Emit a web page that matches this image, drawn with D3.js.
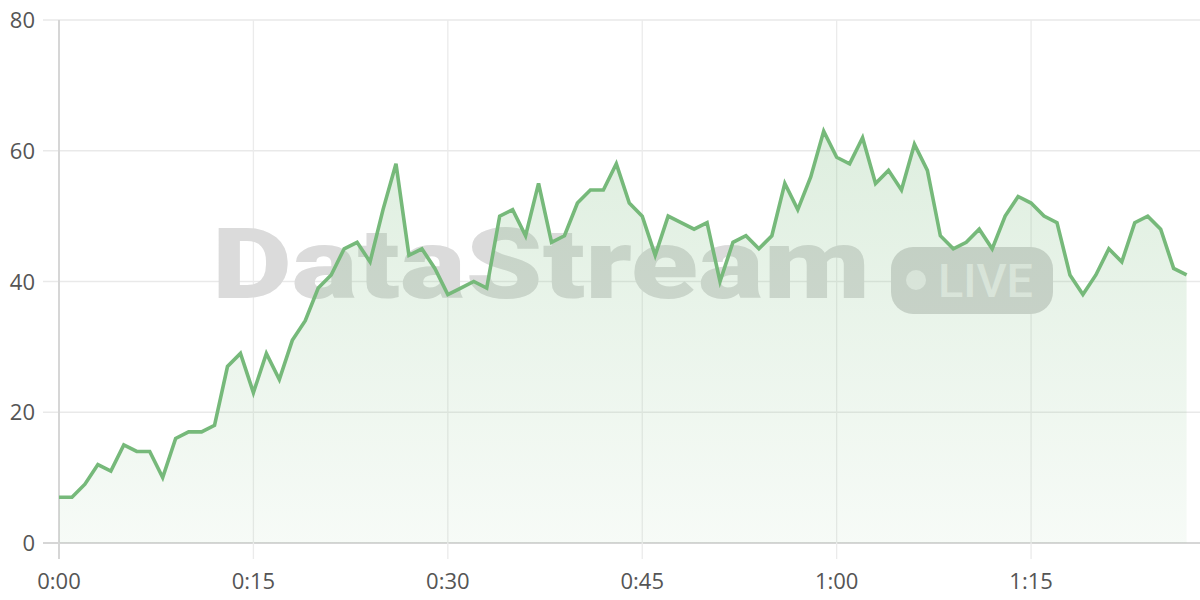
<!DOCTYPE html>
<html><head><meta charset="utf-8">
<script src="https://cdn.jsdelivr.net/npm/d3@7"></script>
<style>html,body{margin:0;padding:0;background:#fff;}svg{display:block;}</style>
</head><body>
<svg id="c" width="1200" height="600"></svg>
<script>
const minutes = d3.range(0, 88);
const values = [7,7,9,12,11,15,14,14,10,16,17,17,18,27,29,23,29,25,31,34,39,41,45,46,43,51,58,44,45,42,38,39,40,39,50,51,47,55,46,47,52,54,54,58,52,50,44,50,49,48,49,40,46,47,45,47,55,51,56,63,59,58,62,55,57,54,61,57,47,45,46,48,45,50,53,52,50,49,41,38,41,45,43,49,50,48,42,41];
const xTicks = [0,15,30,45,60,75];
const yTicks = [0,20,40,60,80];
const xTickLabels = ["0:00","0:15","0:30","0:45","1:00","1:15"];

const svg = d3.select("#c");
const x = d3.scaleLinear().domain([0,87]).range([59,1186.6]);
const y = d3.scaleLinear().domain([0,80]).range([543,20]);
const data = minutes.map((m,i)=>({m, v: values[i]}));
const font = "'Open Sans', 'Noto Sans', sans-serif";

const defs = svg.append("defs");
const g = defs.append("linearGradient").attr("id","fillg")
  .attr("gradientUnits","userSpaceOnUse").attr("x1",0).attr("x2",0).attr("y1",y(63)).attr("y2",y(0));
g.append("stop").attr("offset","0%").attr("stop-color","#76b97a").attr("stop-opacity",0.24);
g.append("stop").attr("offset","100%").attr("stop-color","#76b97a").attr("stop-opacity",0.06);

svg.append("g").selectAll("line").data(yTicks).join("line")
  .attr("x1",43).attr("x2",1200).attr("y1",d=>y(d)).attr("y2",d=>y(d))
  .attr("stroke", d=> d===0 ? "#d6d6d6" : "#e9e9e9").attr("stroke-width", d=> d===0?2:1.3);
svg.append("g").selectAll("line").data(xTicks).join("line")
  .attr("x1",d=>x(d)).attr("x2",d=>x(d)).attr("y1",20).attr("y2",559)
  .attr("stroke", d=> d===0 ? "#d6d6d6" : "#ebebeb").attr("stroke-width", d=> d===0?2:1.3);

const wm = svg.append("g");
wm.append("text").attr("x",212).attr("y",298).attr("font-family","Roboto, 'Open Sans', sans-serif")
  .attr("font-weight",900).attr("font-size",98).attr("fill","#dbdbdb")
  .attr("textLength",658).attr("lengthAdjust","spacingAndGlyphs").text("DataStream");
wm.append("rect").attr("x",891).attr("y",247).attr("width",162).attr("height",67).attr("rx",22)
  .attr("fill","#d6d6d6");
wm.append("circle").attr("cx",916).attr("cy",280).attr("r",10).attr("fill","#ededed");
wm.append("text").attr("x",938).attr("y",297).attr("font-family","Roboto, 'Open Sans', sans-serif")
  .attr("font-weight",500).attr("font-size",46).attr("fill","#ededed")
  .attr("textLength",95).attr("lengthAdjust","spacingAndGlyphs").text("LIVE");

svg.append("path").datum(data)
  .attr("d", d3.area().x(d=>x(d.m)).y0(y(0)).y1(d=>y(d.v)))
  .attr("fill","url(#fillg)");
svg.append("path").datum(data)
  .attr("d", d3.line().x(d=>x(d.m)).y(d=>y(d.v)))
  .attr("fill","none").attr("stroke","#76b97a").attr("stroke-width",3.6).attr("stroke-linejoin","miter");

svg.append("g").selectAll("text").data(yTicks).join("text")
  .attr("x",35).attr("y",d=>y(d)+8).attr("text-anchor","end")
  .attr("font-family",font).attr("font-size",22).attr("fill","#555").text(d=>d);
svg.append("g").selectAll("text").data(xTicks).join("text")
  .attr("x",d=>x(d)).attr("y",589).attr("text-anchor","middle")
  .attr("font-family",font).attr("font-size",22).attr("fill","#555").text((d,i)=>xTickLabels[i]);
</script>
</body></html>
